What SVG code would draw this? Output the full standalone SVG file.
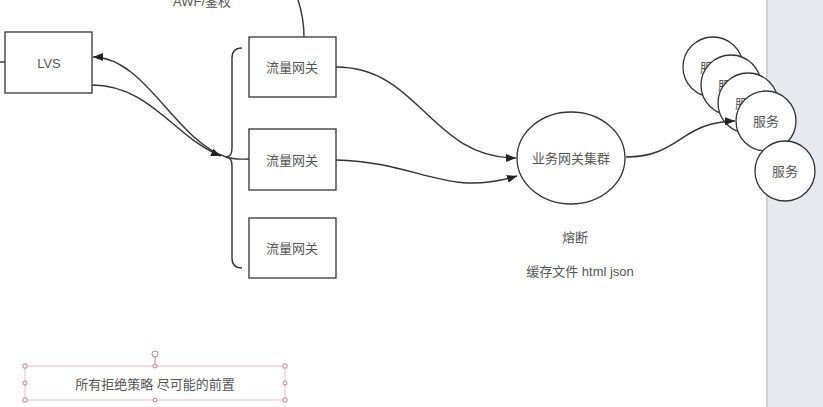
<svg xmlns="http://www.w3.org/2000/svg" width="823" height="407" viewBox="0 0 823 407">
  <defs>
    <marker id="arrow" viewBox="0 0 10 8" refX="10" refY="4" markerWidth="10" markerHeight="8" markerUnits="userSpaceOnUse" orient="auto">
      <path d="M0,0 L10,4 L0,8 Z" fill="#222"/>
    </marker>
    <style>
      .box { fill: #fff; stroke: #333; stroke-width: 1.3; }
      .edge { fill: none; stroke: #333; stroke-width: 1.4; }
      .lbl { font-family: "Liberation Sans", "Noto Sans CJK SC", sans-serif; font-size: 13px; fill: #555; text-anchor: middle; dominant-baseline: central; }
      .sel { fill: none; stroke: #e6bfc9; stroke-width: 1; }
      .handle { fill: #fff; stroke: #c27d90; stroke-width: 1; }
    </style>
  </defs>

  <rect x="0" y="0" width="823" height="407" fill="#fff"/>
  <!-- side panel -->
  <rect x="767" y="0" width="56" height="407" fill="#e8e8ef"/>
  <rect x="766" y="0" width="2" height="407" fill="#cfcfd7"/>

  <text class="lbl" x="202" y="1">AWF/鉴权</text>

  <g id="lvs">
    <rect class="box" x="5" y="32" width="87" height="61"/>
    <text class="lbl" x="49" y="63">LVS</text>
  </g>

  <!-- brace grouping the gateways -->
  <path class="edge" d="M242,48 C235,48 232,51 232,58 L232,148 C232,154 230,157 226,157 C230,157 232,160 232,166 L232,258 C232,265 235,268 242,268"/>

  <g id="gw1">
    <rect class="box" x="249" y="37" width="87" height="60"/>
    <text class="lbl" x="292" y="67">流量网关</text>
  </g>
  <g id="gw2">
    <rect class="box" x="249" y="129" width="87" height="61"/>
    <text class="lbl" x="292" y="160">流量网关</text>
  </g>
  <g id="gw3">
    <rect class="box" x="249" y="218" width="87" height="60"/>
    <text class="lbl" x="292" y="248">流量网关</text>
  </g>

  <g id="biz-cluster">
    <ellipse class="box" cx="571" cy="158" rx="54" ry="46"/>
    <text class="lbl" x="571" y="158">业务网关集群</text>
  </g>

  <text class="lbl" x="575" y="237">熔断</text>
  <text class="lbl" x="580" y="271">缓存文件 html json</text>

  <g id="svc1">
    <circle class="box" cx="713" cy="67" r="30"/>
    <text class="lbl" x="713" y="67">服务</text>
  </g>
  <g id="svc2">
    <circle class="box" cx="731" cy="85" r="30"/>
    <text class="lbl" x="731" y="85">服务</text>
  </g>
  <g id="svc3">
    <circle class="box" cx="748" cy="103" r="30"/>
    <text class="lbl" x="748" y="103">服务</text>
  </g>
  <g id="svc4">
    <circle class="box" cx="766" cy="121" r="30"/>
    <text class="lbl" x="766" y="121">服务</text>
  </g>
  <g id="svc5">
    <circle class="box" cx="785" cy="171" r="30"/>
    <text class="lbl" x="785" y="171">服务</text>
  </g>

  <g id="connectors">
    <path class="edge" d="M0,62 L5,62"/>
    <path class="edge" d="M298,0 C302,12 304,24 304,37"/>
    <path class="edge" d="M226,157 C175,140 145,57 93,57" marker-end="url(#arrow)"/>
    <path class="edge" d="M92,85 C150,85 175,138 221,156" marker-end="url(#arrow)"/>
    <path class="edge" d="M226,157 C235,160 240,159 249,159"/>
    <path class="edge" d="M336,67 C420,67 430,158 516,158" marker-end="url(#arrow)"/>
    <path class="edge" d="M336,160 C420,162 445,198 517,176" marker-end="url(#arrow)"/>
    <path class="edge" d="M626,157 C680,157 680,122 735,121" marker-end="url(#arrow)"/>
  </g>

  <g id="note">
    <rect class="sel" x="25" y="366" width="260" height="34"/>
    <text class="lbl" x="155" y="384">所有拒绝策略 尽可能的前置</text>
    <line x1="155" y1="357" x2="155" y2="366" stroke="#c27d90" stroke-width="1"/>
    <circle class="handle" cx="155" cy="354" r="3"/>
    <rect class="handle" x="23" y="364" width="4" height="4" rx="1"/>
    <rect class="handle" x="283" y="364" width="4" height="4" rx="1"/>
    <rect class="handle" x="23" y="398" width="4" height="4" rx="1"/>
    <rect class="handle" x="283" y="398" width="4" height="4" rx="1"/>
    <circle class="handle" cx="155" cy="366" r="2"/>
    <circle class="handle" cx="155" cy="400" r="2"/>
    <circle class="handle" cx="25" cy="383" r="2"/>
    <circle class="handle" cx="285" cy="383" r="2"/>
  </g>
</svg>
